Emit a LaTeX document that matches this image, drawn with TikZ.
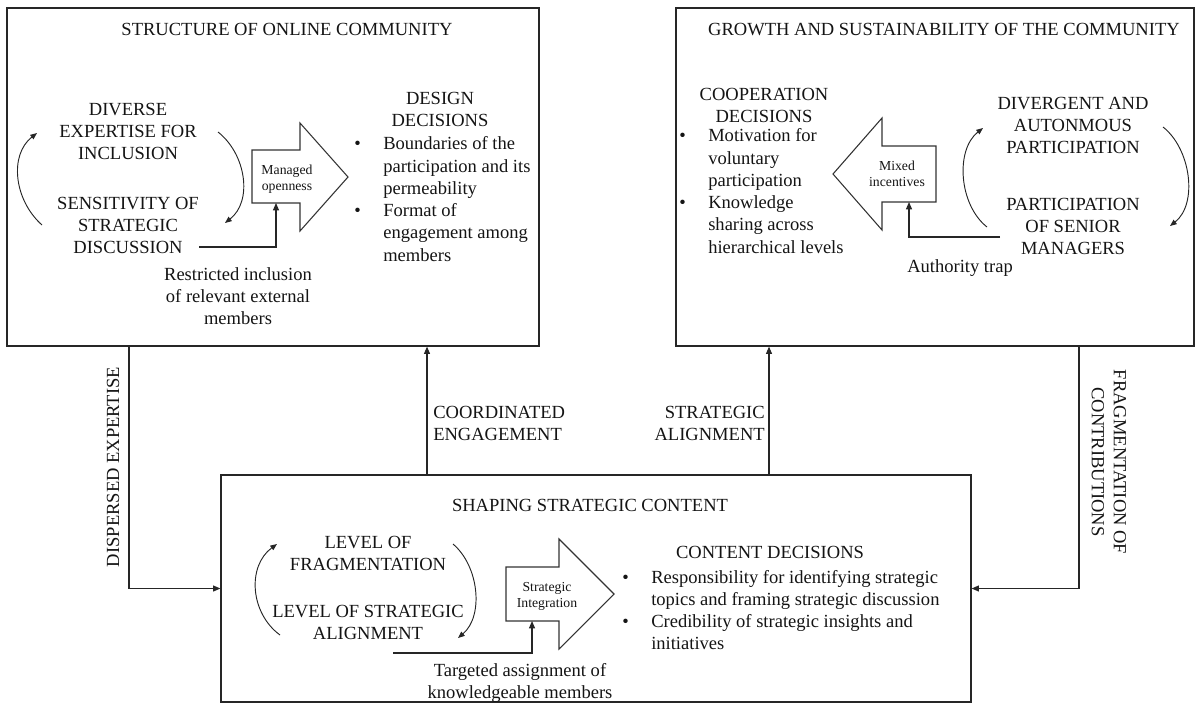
\documentclass[tikz,border=0pt]{standalone}
\usepackage{fontspec}
\setmainfont{Liberation Serif}
\usetikzlibrary{arrows.meta,calc}

\newcommand{\bul}{\makebox[21.75pt][l]{\textbullet}}
\newcommand{\ind}{\hspace*{21.75pt}}

\begin{document}
\begin{tikzpicture}[x=0.75pt,y=0.75pt,
    box/.style={draw=black!85,line width=0.9pt},
    txt/.style={font=\fontsize{13.9}{16.5}\selectfont,align=center,text=black!92},
    lst/.style={font=\fontsize{13.9}{16.7}\selectfont,align=left,text=black!92},
    lbl/.style={font=\fontsize{10.3}{12}\selectfont,align=center,text=black!92},
    bigarrow/.style={draw=black!80,line width=0.8pt},
    flow/.style={draw=black!85,line width=0.8pt,-{Triangle[length=5.5pt,width=4.5pt]}},
    cyc/.style={draw=black!85,line width=0.7pt,-{Triangle[length=5pt,width=4pt]}}]
  \tikzstyle{every node}+=[inner sep=0pt]
  \useasboundingbox (0,0) rectangle (1195,-704);
  % blocks
  \draw (273,-177) node [box, minimum width=399pt, minimum height=253.5pt] (soc) {};
  \draw (935,-177) node [box, minimum width=388.5pt, minimum height=253.5pt] (gsc) {};
  \draw (596,-588.5) node [box, minimum width=562.5pt, minimum height=170.25pt] (ssc) {};
  \draw (287,-29) node [txt] (soc-t) {STRUCTURE OF ONLINE COMMUNITY};
  \draw (944,-29) node [txt] (gsc-t) {GROWTH AND SUSTAINABILITY OF THE COMMUNITY};
  \draw (590,-505) node [txt] (ssc-t) {SHAPING STRATEGIC CONTENT};
  % structure of online community
  \draw (128,-131) node [txt] (div) {DIVERSE\\EXPERTISE FOR\\INCLUSION};
  \draw (128,-225) node [txt] (sens) {SENSITIVITY OF\\STRATEGIC\\DISCUSSION};
  \draw [cyc] ($(sens)+(-86,0)$) .. controls +(-28,25) and +(-28,-22) .. ($(div)+(-91,-2)$);
  \draw [cyc] ($(div)+(90,-1)$) .. controls +(28,-22) and +(28,22) .. ($(sens)+(97,2)$);
  \draw [bigarrow] (252,-150) -- (300,-150) -- (300,-123) -- (348,-177) -- (300,-231) -- (300,-203) -- (252,-203) -- cycle;
  \draw (287,-179) node [lbl] (mo) {Managed\\openness};
  \coordinate (mo-in) at (276,-203);
  \draw [flow] (sens.east |- 0,-247) -| (mo-in);
  \draw (238,-296) node [txt] (ri) {Restricted inclusion\\of relevant external\\members};
  \draw (440,-109.5) node [txt] (dd) {DESIGN\\DECISIONS};
  \draw (354,-199) node [lst, anchor=west] (dd-l) {\bul Boundaries of the\\\ind participation and its\\\ind permeability\\\bul Format of\\\ind engagement among\\\ind members};
  % growth and sustainability
  \draw (1073,-125.5) node [txt] (dap) {DIVERGENT AND\\AUTONMOUS\\PARTICIPATION};
  \draw (1073,-226) node [txt] (psm) {PARTICIPATION\\OF SENIOR\\MANAGERS};
  \draw [cyc] ($(psm)+(-86,-1)$) .. controls +(-28,22) and +(-28,-22) .. ($(dap)+(-90,-2.5)$);
  \draw [cyc] ($(dap)+(90,-1.5)$) .. controls +(28,-22) and +(28,22) .. ($(psm)+(97,0)$);
  \draw [bigarrow] (936,-146) -- (882,-146) -- (882,-118) -- (833,-174) -- (882,-230) -- (882,-202) -- (936,-202) -- cycle;
  \draw (897,-174) node [lbl] (mx) {Mixed\\incentives};
  \coordinate (mx-in) at (909,-202);
  \draw [flow, shorten <=4.5pt] (psm.west |- 0,-237) -| (mx-in);
  \draw (960,-268.5) node [txt] (at) {Authority trap};
  \draw (764,-105) node [txt] (cd) {COOPERATION\\DECISIONS};
  \draw (679,-191) node [lst, anchor=west] (cd-l) {\bul Motivation for\\\ind voluntary\\\ind participation\\\bul Knowledge\\\ind sharing across\\\ind hierarchical levels};
  % shaping strategic content
  \draw (368,-553) node [txt] (lf) {LEVEL OF\\FRAGMENTATION};
  \draw (368,-622) node [txt] (lsa) {LEVEL OF STRATEGIC\\ALIGNMENT};
  \draw [cyc] ($(lsa)+(-88,-13)$) .. controls +(-30,22) and +(-30,-22) .. ($(lf)+(-91,9)$);
  \draw [cyc] ($(lf)+(85,9)$) .. controls +(26,-22) and +(26,22) .. ($(lsa)+(90,-16)$);
  \draw [bigarrow] (506,-567) -- (559,-567) -- (559,-539) -- (614,-594) -- (559,-649) -- (559,-621) -- (506,-621) -- cycle;
  \draw (547,-596) node [lbl] (si) {Strategic\\Integration};
  \coordinate (si-in) at (532,-621);
  \coordinate (tam-from) at (393,-653);
  \draw [flow] (tam-from) -| (si-in);
  \draw (520,-683) node [txt] (tam) {Targeted assignment of\\knowledgeable members};
  \draw (770,-552) node [txt] (cnd) {CONTENT DECISIONS};
  \draw (622,-610) node [lst, anchor=west] (cnd-l) {\bul Responsibility for identifying strategic\\\ind topics and framing strategic discussion\\\bul Credibility of strategic insights and\\\ind initiatives};
  % links between blocks
  \draw [flow] (129,0 |- soc.south) |- (ssc.west);
  \draw [flow] (427,0 |- ssc.north) -- (427,0 |- soc.south);
  \draw [flow] (769,0 |- ssc.north) -- (769,0 |- gsc.south);
  \draw [flow] (1079,0 |- gsc.south) |- (ssc.east);
  \draw (113,-467) node [txt, rotate=90] (de) {DISPERSED EXPERTISE};
  \draw (1109,-462) node [txt, rotate=-90] (fc) {FRAGMENTATION OF\\CONTRIBUTIONS};
  \draw (433,-423) node [txt, anchor=west, align=left] (ce) {COORDINATED\\ENGAGEMENT};
  \draw (765,-423) node [txt, anchor=east, align=right] (sa) {STRATEGIC\\ALIGNMENT};
\end{tikzpicture}
\end{document}
